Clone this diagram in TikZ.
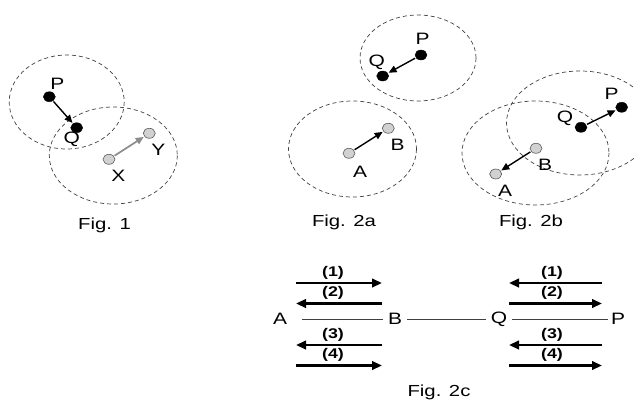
\documentclass[tikz,border=0pt]{standalone}
\usepackage{fontspec}
\setmainfont[FakeStretch=1.27]{Liberation Sans}
\usepackage{tikz}
\usetikzlibrary{arrows.meta}
\usetikzlibrary{shapes.geometric}
\newcommand{\dotwidth}{12pt}
\newcommand{\dotheight}{10pt}
\tikzstyle{peer}=[ellipse, draw, inner sep=0, outer sep=0, minimum width=\dotwidth, minimum height=\dotheight]
\tikzstyle{blackpeer}=[peer, draw=black, fill=black]
\tikzstyle{graypeer}=[peer, draw=black!65, fill=black!18, line width=0.6pt]
\tikzstyle{peerrange}=[draw=black!75, dash pattern=on 4pt off 3pt, line width=0.7pt]
\tikzstyle{move}=[-{Triangle[length=8pt,width=7pt]}, line width=1.4pt, shorten >=1pt, shorten <=1pt]
\tikzstyle{msg}=[-{Triangle[length=10pt,width=8.5pt]}, line width=2.3pt]
\tikzstyle{link}=[draw=black!75, line width=0.7pt]
\tikzstyle{lbl}=[inner sep=0, font=\fontsize{16.5}{19}\selectfont]
\tikzstyle{figcap}=[inner sep=0, font=\fontsize{16}{19}\selectfont]
\tikzstyle{msgno}=[inner sep=0, font=\bfseries\fontsize{14}{16}\selectfont]
\tikzstyle{peers}=[x=1pt, y=-1pt,
                   % keep the whole page as the bounding box
                   execute at begin picture={\useasboundingbox (0,0) rectangle (635,402);}]

\begin{document}
\begin{tikzpicture}[peers]
    % Fig. 1
    \draw[peerrange] (66.7,102) ellipse [x radius=57.5, y radius=47];
    \draw[peerrange] (113.3,155.5) ellipse [x radius=64, y radius=48.5];
    \node[blackpeer] (f1P) at (49.3,96.7) {};
    \node[blackpeer] (f1Q) at (76.7,127.7) {};
    \node[graypeer] (f1X) at (109,159.3) {};
    \node[graypeer] (f1Y) at (149.3,133.3) {};
    \node[lbl] (f1Plbl) at (57.3,83.5) {P};
    \node[lbl] (f1Qlbl) at (71.7,139.5) {Q};
    \node[lbl] (f1Xlbl) at (118.3,176) {X};
    \node[lbl] (f1Ylbl) at (158.3,149.5) {Y};
    \draw[move] (f1P) -- (f1Q);
    \draw[move, draw=black!45, line width=1.7pt, -{Triangle[length=8pt,width=7pt,fill=black!45]}] (f1X) -- (f1Y);
    \node[figcap] (f1cap) at (104.5,225.5) {Fig. 1};

    % Fig. 2a
    \draw[peerrange] (418,58) ellipse [x radius=58, y radius=43];
    \draw[peerrange] (352.5,149) ellipse [x radius=64, y radius=48];
    \node[blackpeer] (taP) at (421,55) {};
    \node[blackpeer] (taQ) at (382.7,76) {};
    \node[graypeer] (aA) at (349,153.3) {};
    \node[graypeer] (aB) at (388.3,128.3) {};
    \node[lbl] (taPlbl) at (422.7,38.5) {P};
    \node[lbl] (taQlbl) at (376.7,62) {Q};
    \node[lbl] (aAlbl) at (360,172.3) {A};
    \node[lbl] (aBlbl) at (397.7,145) {B};
    \draw[move] (taP) -- (taQ);
    \draw[move] (aA) -- (aB);
    \node[figcap] (f2acap) at (344,222) {Fig. 2a};

    % Fig. 2b
    \draw[peerrange] (535.5,153) ellipse [x radius=73.5, y radius=52];
    \draw[peerrange] (580,123) ellipse [x radius=73.5, y radius=52];
    \node[blackpeer] (bQ) at (581,127.3) {};
    \node[blackpeer] (bP) at (621.7,107.3) {};
    \node[graypeer] (bB) at (536,148.3) {};
    \node[graypeer] (bA) at (495.7,174) {};
    \node[lbl] (bQlbl) at (565,118.3) {Q};
    \node[lbl] (bPlbl) at (611.7,94.3) {P};
    \node[lbl] (bBlbl) at (545,165) {B};
    \node[lbl] (bAlbl) at (505,191) {A};
    \draw[move] (bQ) -- (bP);
    \draw[move] (bB) -- (bA);
    \node[figcap] (f2bcap) at (531,222) {Fig. 2b};

    % Fig. 2c
    \node[lbl] (cA) at (280,319) {A};
    \node[lbl] (cB) at (395,319) {B};
    \node[lbl] (cQ) at (499,319) {Q};
    \node[lbl] (cP) at (618,319) {P};
    \draw[link, shorten <=15pt, shorten >=5pt] (cA) -- (cB);
    \draw[link, shorten <=5pt, shorten >=5pt] (cB) -- (cQ);
    \draw[link, shorten <=5pt, shorten >=3pt] (cQ) -- (cP);
    \foreach \y/\n/\a/\b in {283/1/296/382, 303.5/2/382/296, 345/3/382/296, 365.5/4/296/382} {
        \coordinate (from) at (\a,\y);
        \coordinate (to) at (\b,\y);
        \draw[msg] (from) -- (to);
        \node[msgno] at (333,\y-10.5) {(\n)};
    }
    \foreach \y/\n/\a/\b in {283/1/602/509, 303.5/2/509/602, 345/3/602/509, 365.5/4/509/602} {
        \coordinate (from) at (\a,\y);
        \coordinate (to) at (\b,\y);
        \draw[msg] (from) -- (to);
        \node[msgno] at (552,\y-10.5) {(\n)};
    }
    \node[figcap] (f2ccap) at (439,392) {Fig. 2c};
\end{tikzpicture}
\end{document}
